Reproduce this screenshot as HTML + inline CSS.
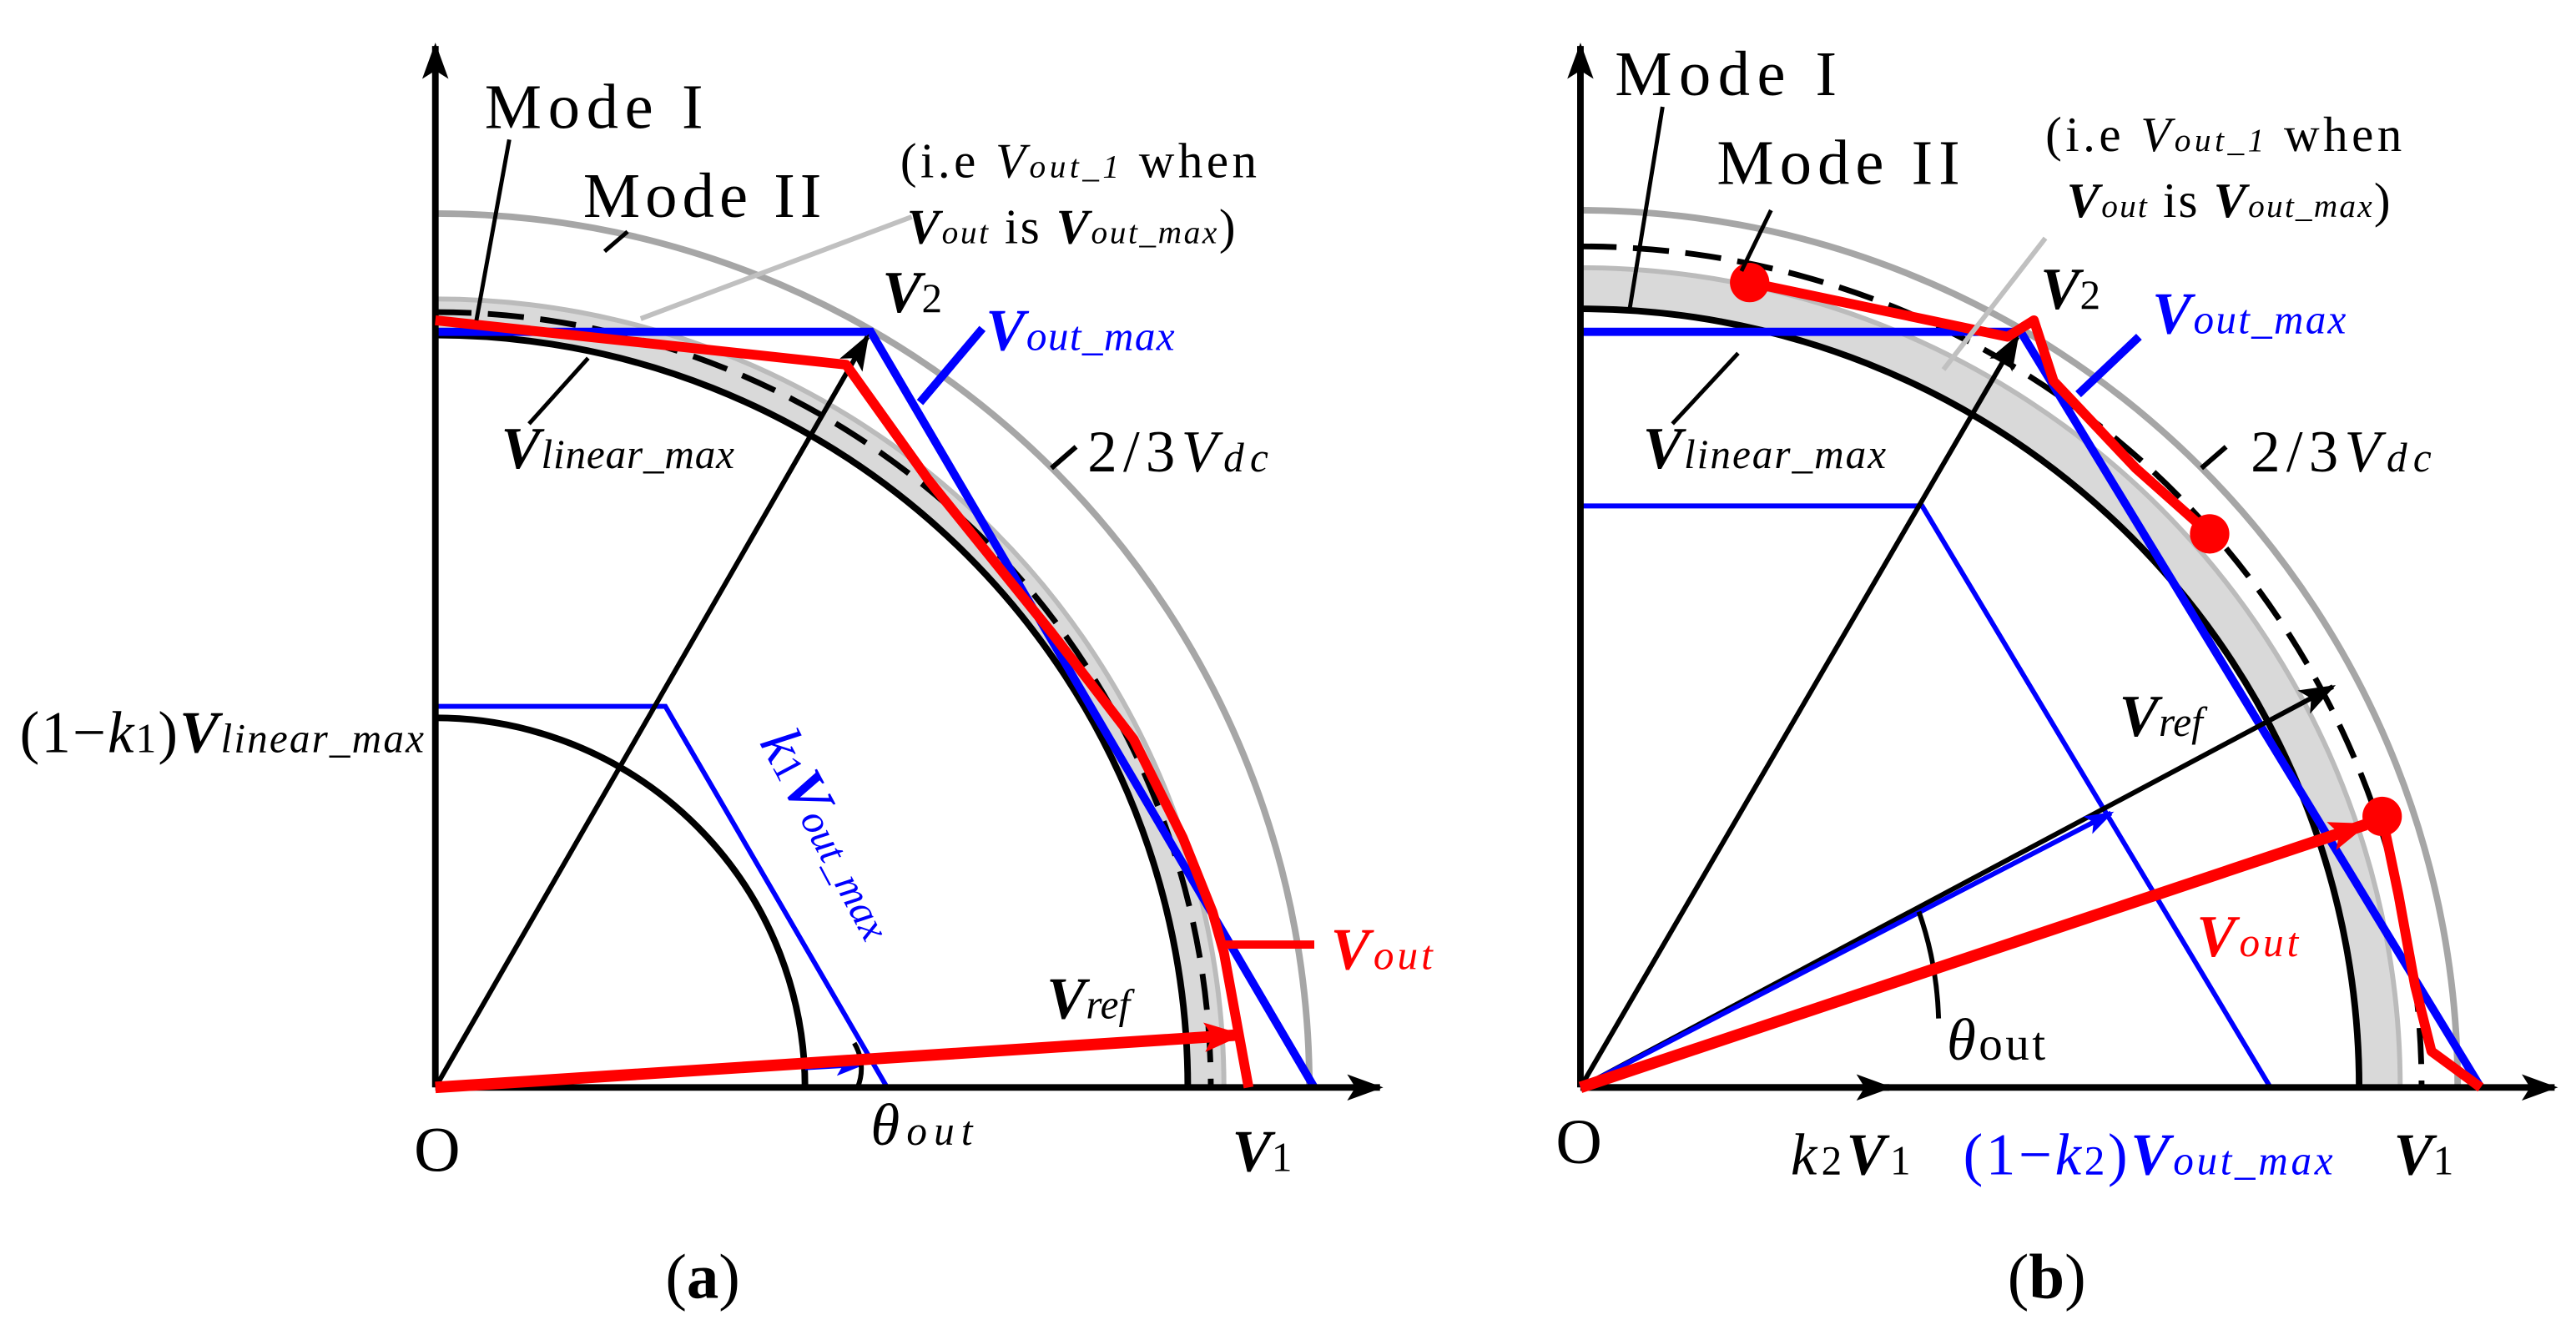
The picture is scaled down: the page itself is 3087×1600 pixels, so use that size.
<!DOCTYPE html>
<html><head><meta charset="utf-8"><style>
html,body{margin:0;padding:0;background:#fff}
svg{display:block}
text{font-family:"Liberation Serif",serif;}
</style></head><body>
<svg width="3087" height="1600" viewBox="0 0 1568 812.7" preserveAspectRatio="none" xmlns="http://www.w3.org/2000/svg">
<defs>
<marker id="abig" markerWidth="22" markerHeight="16" refX="20" refY="8" orient="auto" markerUnits="userSpaceOnUse"><path d="M0,0 L22,8 L0,16 L5,8 Z" fill="#000"/></marker>
<marker id="ared" markerWidth="24" markerHeight="18" refX="22" refY="9" orient="auto" markerUnits="userSpaceOnUse"><path d="M0,0 L24,9 L0,18 L5,9 Z" fill="#f00"/></marker>
<marker id="ablue" markerWidth="18" markerHeight="12" refX="16" refY="6" orient="auto" markerUnits="userSpaceOnUse"><path d="M0,0 L18,6 L0,12 L4,6 Z" fill="#00f"/></marker>
</defs>

<!-- ===== Panel (a) ===== -->
<g>
<path d="M265,194 A468,468 0 0 1 733,662" fill="none" stroke="#d9d9d9" stroke-width="22"/>
<path d="M265,182 A480,480 0 0 1 745,662" fill="none" stroke="#bbb" stroke-width="3"/>
<path d="M265,130 A532,532 0 0 1 797,662" fill="none" stroke="#a6a6a6" stroke-width="4"/>
<path d="M265,204 A458,458 0 0 1 723,662" fill="none" stroke="#000" stroke-width="4"/>
<path d="M265,190 A472,472 0 0 1 737,662" fill="none" stroke="#000" stroke-width="3.5" stroke-dasharray="22,10"/>
<path d="M265,437 A225,225 0 0 1 490,662" fill="none" stroke="#000" stroke-width="4"/>
<path d="M265,202 L530,202 L800,662" fill="none" stroke="#00f" stroke-width="5"/>
<path d="M560,245 L598,200" stroke="#00f" stroke-width="5"/>
<path d="M265,430 L405,430 L540,662" fill="none" stroke="#00f" stroke-width="3"/>
<path d="M265,662 L265,28" stroke="#000" stroke-width="4" marker-end="url(#abig)"/>
<path d="M265,662 L840,662" stroke="#000" stroke-width="4" marker-end="url(#abig)"/>
<path d="M265,662 L528,205" stroke="#000" stroke-width="3" marker-end="url(#abig)"/>
<path d="M490,650 L525,648" stroke="#00f" stroke-width="3" marker-end="url(#ablue)"/>
<path d="M520,635 A30,30 0 0 1 522,662" fill="none" stroke="#000" stroke-width="3"/>
<path d="M265,195 L515,222 L565,292 L640,385 L690,450 L720,510 L738,555 L745,580 L760,662" fill="none" stroke="#f00" stroke-width="6" stroke-linejoin="round"/>
<path d="M745,575 L800,575" stroke="#f00" stroke-width="5"/>
<path d="M265,662 L755,630" stroke="#f00" stroke-width="7" marker-end="url(#ared)"/>
<path d="M310,85 L290,195" stroke="#000" stroke-width="2.5"/>
<path d="M368,153 L382,141" stroke="#000" stroke-width="2.5"/>
<path d="M555,132 L390,194" stroke="#c0c0c0" stroke-width="3"/>
<path d="M322,258 L358,218" stroke="#000" stroke-width="2.5"/>
<path d="M640,285 L655,272" stroke="#000" stroke-width="3"/>
<text x="295" y="78" font-size="39" textLength="133">Mode I</text>
<text x="355" y="132" font-size="39" textLength="145">Mode II</text>
<text x="548" y="108" font-size="30" textLength="217">(i.e <tspan font-style="italic">V</tspan><tspan font-style="italic" font-size="20">out_1</tspan> when</text>
<text x="552" y="148" font-size="30" textLength="200"><tspan font-style="italic" font-weight="bold">V</tspan><tspan font-style="italic" font-size="20">out</tspan> is <tspan font-style="italic" font-weight="bold">V</tspan><tspan font-style="italic" font-size="20">out_max</tspan>)</text>
<text x="537" y="190" font-size="36" font-style="italic" font-weight="bold">V<tspan font-size="25" font-style="normal" font-weight="normal">2</tspan></text>
<text x="600" y="213" font-size="36" font-style="italic" font-weight="bold" fill="#00f" textLength="115">V<tspan font-size="25" font-weight="normal">out_max</tspan></text>
<text x="305" y="285" font-size="36" font-style="italic" font-weight="bold" textLength="142">V<tspan font-size="25" font-weight="normal">linear_max</tspan></text>
<text x="662" y="287" font-size="36" textLength="110">2/3<tspan font-style="italic">V</tspan><tspan font-style="italic" font-size="25">dc</tspan></text>
<text x="12" y="458" font-size="36" textLength="246">(1−<tspan font-style="italic">k</tspan><tspan font-size="25">1</tspan>)<tspan font-style="italic" font-weight="bold">V</tspan><tspan font-style="italic" font-size="25">linear_max</tspan></text>
<text x="0" y="0" font-size="36" fill="#00f" transform="translate(462,452) rotate(62)"><tspan font-style="italic">k</tspan><tspan font-size="25">1</tspan><tspan font-style="italic" font-weight="bold">V</tspan><tspan font-style="italic" font-size="25">out_max</tspan></text>
<text x="637" y="620" font-size="36" font-style="italic" font-weight="bold">V<tspan font-size="25" font-weight="normal">ref</tspan></text>
<text x="810" y="590" font-size="36" font-style="italic" font-weight="bold" fill="#f00" textLength="62">V<tspan font-size="25" font-weight="normal">out</tspan></text>
<text x="530" y="697" font-size="36" font-style="italic" textLength="62">θ<tspan font-size="25">out</tspan></text>
<text x="252" y="713" font-size="39">O</text>
<text x="750" y="713" font-size="36" font-style="italic" font-weight="bold">V<tspan font-size="25" font-style="normal" font-weight="normal">1</tspan></text>
<text x="405" y="790" font-size="39">(<tspan font-weight="bold">a</tspan>)</text>
</g>

<!-- ===== Panel (b) ===== -->
<g>
<path d="M962,175 A487,487 0 0 1 1449,662" fill="none" stroke="#d9d9d9" stroke-width="22"/>
<path d="M962,163 A499,499 0 0 1 1461,662" fill="none" stroke="#bbb" stroke-width="3"/>
<path d="M962,128 A534,534 0 0 1 1496,662" fill="none" stroke="#a6a6a6" stroke-width="4"/>
<path d="M962,188 A474,474 0 0 1 1436,662" fill="none" stroke="#000" stroke-width="4"/>
<path d="M962,150 A512,512 0 0 1 1474,662" fill="none" stroke="#000" stroke-width="3.5" stroke-dasharray="22,10"/>
<path d="M962,202 L1230,202 L1510,662" fill="none" stroke="#00f" stroke-width="5"/>
<path d="M1265,240 L1302,205" stroke="#00f" stroke-width="5"/>
<path d="M962,308 L1170,308 L1382,662" fill="none" stroke="#00f" stroke-width="3"/>
<path d="M962,662 L962,28" stroke="#000" stroke-width="4" marker-end="url(#abig)"/>
<path d="M962,662 L1555,662" stroke="#000" stroke-width="4" marker-end="url(#abig)"/>
<path d="M962,662 L1150,662" stroke="#000" stroke-width="4" marker-end="url(#abig)"/>
<path d="M962,662 L1228,205" stroke="#000" stroke-width="3" marker-end="url(#abig)"/>
<path d="M962,662 L1420,418" stroke="#000" stroke-width="3" marker-end="url(#abig)"/>
<path d="M962,662 L1285,495" stroke="#00f" stroke-width="3" marker-end="url(#ablue)"/>
<path d="M1168,555 A215,215 0 0 1 1180,620" fill="none" stroke="#000" stroke-width="3"/>
<path d="M1065,172 L1222,205 L1238,195 L1250,232 L1300,285 L1345,325" fill="none" stroke="#f00" stroke-width="6" stroke-linejoin="round"/>
<path d="M1450,497 L1460,545 L1470,600 L1480,640 L1510,662" fill="none" stroke="#f00" stroke-width="6" stroke-linejoin="round"/>
<path d="M962,662 L1440,502" stroke="#f00" stroke-width="7" marker-end="url(#ared)"/>
<circle cx="1065" cy="172" r="12" fill="#f00"/>
<circle cx="1345" cy="325" r="12" fill="#f00"/>
<circle cx="1450" cy="497" r="12" fill="#f00"/>
<path d="M1012,65 L992,188" stroke="#000" stroke-width="2.5"/>
<path d="M1078,128 L1060,165" stroke="#000" stroke-width="2.5"/>
<path d="M1245,145 L1183,225" stroke="#c0c0c0" stroke-width="3"/>
<path d="M1018,258 L1058,215" stroke="#000" stroke-width="2.5"/>
<path d="M1340,285 L1355,272" stroke="#000" stroke-width="3"/>
<text x="983" y="58" font-size="39" textLength="135">Mode I</text>
<text x="1045" y="112" font-size="39" textLength="148">Mode II</text>
<text x="1245" y="92" font-size="30" textLength="217">(i.e <tspan font-style="italic">V</tspan><tspan font-style="italic" font-size="20">out_1</tspan> when</text>
<text x="1258" y="132" font-size="30" textLength="197"><tspan font-style="italic" font-weight="bold">V</tspan><tspan font-style="italic" font-size="20">out</tspan> is <tspan font-style="italic" font-weight="bold">V</tspan><tspan font-style="italic" font-size="20">out_max</tspan>)</text>
<text x="1242" y="188" font-size="36" font-style="italic" font-weight="bold">V<tspan font-size="25" font-style="normal" font-weight="normal">2</tspan></text>
<text x="1310" y="203" font-size="36" font-style="italic" font-weight="bold" fill="#00f" textLength="118">V<tspan font-size="25" font-weight="normal">out_max</tspan></text>
<text x="1000" y="285" font-size="36" font-style="italic" font-weight="bold" textLength="148">V<tspan font-size="25" font-weight="normal">linear_max</tspan></text>
<text x="1370" y="287" font-size="36" textLength="110">2/3<tspan font-style="italic">V</tspan><tspan font-style="italic" font-size="25">dc</tspan></text>
<text x="1290" y="448" font-size="36" font-style="italic" font-weight="bold">V<tspan font-size="25" font-weight="normal">ref</tspan></text>
<text x="1337" y="582" font-size="36" font-style="italic" font-weight="bold" fill="#f00" textLength="62">V<tspan font-size="25" font-weight="normal">out</tspan></text>
<text x="1185" y="645" font-size="36" font-style="italic" textLength="60">θ<tspan font-size="29" font-style="normal">out</tspan></text>
<text x="947" y="708" font-size="39">O</text>
<text x="1090" y="715" font-size="36" textLength="73"><tspan font-style="italic">k</tspan><tspan font-size="25">2</tspan><tspan font-style="italic" font-weight="bold">V</tspan><tspan font-size="25">1</tspan></text>
<text x="1195" y="715" font-size="36" fill="#00f" textLength="225">(1−<tspan font-style="italic">k</tspan><tspan font-size="25">2</tspan>)<tspan font-style="italic" font-weight="bold">V</tspan><tspan font-style="italic" font-size="25">out_max</tspan></text>
<text x="1457" y="715" font-size="36" font-style="italic" font-weight="bold">V<tspan font-size="25" font-style="normal" font-weight="normal">1</tspan></text>
<text x="1222" y="790" font-size="39">(<tspan font-weight="bold">b</tspan>)</text>
</g>
</svg>
</body></html>
